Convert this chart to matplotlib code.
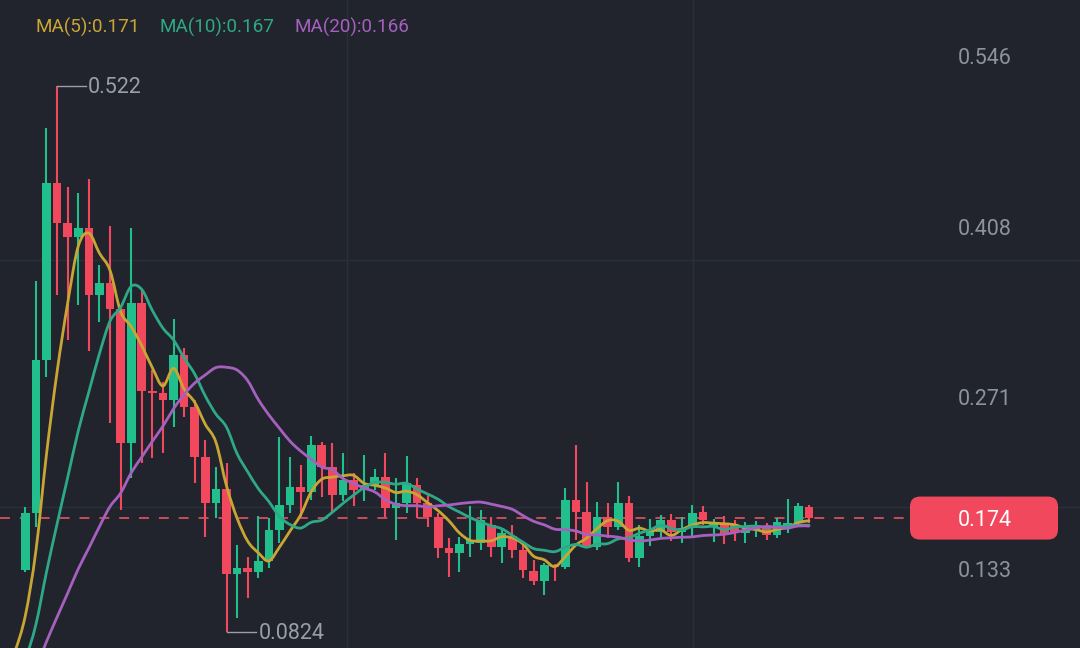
import numpy as np
import pandas as pd
import matplotlib
matplotlib.use('Agg')
import matplotlib.pyplot as plt
import matplotlib.transforms as mtransforms
from matplotlib.path import Path
from matplotlib.patches import PathPatch, FancyBboxPatch

plt.rcParams['font.family'] = ['Roboto', 'DejaVu Sans']

# candles
open_ = [0.1322, 0.1781, 0.3013, 0.4438, 0.4116, 0.4003, 0.4075, 0.3536, 0.3633, 0.3423,
         0.2345, 0.3472, 0.2763, 0.2747, 0.2691, 0.3053, 0.2634, 0.2232, 0.1862, 0.1974,
         0.1290, 0.1338, 0.1306, 0.1395, 0.1644, 0.1846, 0.1990, 0.1950, 0.2329, 0.2151,
         0.1926, 0.2047, 0.1966, 0.2007, 0.2071, 0.1821, 0.1862, 0.2007, 0.1862, 0.1749,
         0.1499, 0.1459, 0.1532, 0.1540, 0.1685, 0.1507, 0.1596, 0.1483, 0.1314, 0.1234,
         0.1363, 0.1346, 0.1886, 0.1789, 0.1507, 0.1749, 0.1668, 0.1862, 0.1419, 0.1596,
         0.1628, 0.1725, 0.1628, 0.1660, 0.1789, 0.1668, 0.1701, 0.1685, 0.1620, 0.1644,
         0.1660, 0.1604, 0.1668, 0.1701, 0.1829]
high = [0.1829, 0.3649, 0.4880, 0.5220, 0.4405, 0.4357, 0.4470, 0.3778, 0.4092, 0.3456,
        0.4075, 0.3576, 0.2932, 0.2836, 0.3343, 0.3109, 0.2691, 0.2369, 0.2151, 0.2184,
        0.1524, 0.1427, 0.1757, 0.1741, 0.2393, 0.2232, 0.2168, 0.2401, 0.2353, 0.2345,
        0.2264, 0.2103, 0.2248, 0.2135, 0.2264, 0.2063, 0.2240, 0.2063, 0.1942, 0.1781,
        0.1580, 0.1588, 0.1837, 0.1805, 0.1749, 0.1644, 0.1685, 0.1540, 0.1403, 0.1379,
        0.1371, 0.1982, 0.2329, 0.2031, 0.1870, 0.1862, 0.2031, 0.1918, 0.1685, 0.1733,
        0.1765, 0.1773, 0.1749, 0.1846, 0.1837, 0.1733, 0.1757, 0.1725, 0.1709, 0.1717,
        0.1701, 0.1741, 0.1894, 0.1862, 0.1846]
low = [0.1306, 0.1668, 0.2876, 0.3536, 0.3174, 0.3456, 0.3085, 0.3319, 0.2506, 0.1805,
       0.2063, 0.2184, 0.2224, 0.2264, 0.2473, 0.2554, 0.2023, 0.1588, 0.1741, 0.0824,
       0.0936, 0.1097, 0.1258, 0.1338, 0.1540, 0.1781, 0.1749, 0.1886, 0.1910, 0.1789,
       0.1878, 0.1837, 0.1878, 0.1966, 0.1749, 0.1564, 0.1781, 0.1741, 0.1668, 0.1419,
       0.1266, 0.1306, 0.1427, 0.1483, 0.1427, 0.1379, 0.1419, 0.1258, 0.1202, 0.1121,
       0.1234, 0.1330, 0.1564, 0.1499, 0.1483, 0.1580, 0.1644, 0.1387, 0.1346, 0.1515,
       0.1588, 0.1556, 0.1540, 0.1580, 0.1685, 0.1548, 0.1532, 0.1556, 0.1540, 0.1588,
       0.1564, 0.1580, 0.1620, 0.1685, 0.1701]
close = [0.1781, 0.3013, 0.4438, 0.4116, 0.4003, 0.4075, 0.3536, 0.3633, 0.3423, 0.2345,
         0.3472, 0.2763, 0.2747, 0.2691, 0.3053, 0.2634, 0.2232, 0.1862, 0.1974, 0.1290,
         0.1338, 0.1306, 0.1395, 0.1644, 0.1846, 0.1990, 0.1950, 0.2329, 0.2151, 0.1926,
         0.2047, 0.1966, 0.2007, 0.2071, 0.1821, 0.1862, 0.2023, 0.1862, 0.1749, 0.1499,
         0.1459, 0.1532, 0.1564, 0.1725, 0.1507, 0.1620, 0.1483, 0.1322, 0.1234, 0.1363,
         0.1346, 0.1886, 0.1789, 0.1507, 0.1749, 0.1668, 0.1862, 0.1419, 0.1596, 0.1628,
         0.1725, 0.1628, 0.1660, 0.1781, 0.1725, 0.1701, 0.1604, 0.1620, 0.1644, 0.1668,
         0.1604, 0.1709, 0.1701, 0.1837, 0.1740]
# closes before the visible window (only feed the moving averages)
prior_close = [0.015, 0.015, 0.016, 0.016, 0.017, 0.017, 0.018, 0.019, 0.019, 0.020,
               0.021, 0.022, 0.024, 0.027, 0.032, 0.040, 0.055, 0.080, 0.124]

ma_periods = [5, 10, 20]
ma_last = [0.171, 0.167, 0.166]
price_ticks = [0.546, 0.408, 0.271, 0.133]
last_price = 0.174

BG = '#21242c'
UP = '#20bf8c'
DOWN = '#f2485e'
TXT = '#8e939b'
GRID = '#2b2f38'
ma_colors = ['#c9a634', '#2ea887', '#a660bf']

o = np.array(open_)
h = np.array(high)
l = np.array(low)
c = np.array(close)
idx = np.arange(len(c))

fig = plt.figure(figsize=(10.8, 6.48), dpi=100, facecolor=BG)
ax = fig.add_axes([0, 0, 1, 1], facecolor=BG)
ax.set_xlim(-2.39, 99.6)
ax.set_ylim(0.0694, 0.5911)
ax.axis('off')

# faint screen grid
for gx in [0.321, 0.642]:
    ax.plot([gx, gx], [0, 1], transform=ax.transAxes, color=GRID, lw=1, zorder=0)
for gy in [0.599, 0.2176]:
    ax.plot([0, 1], [gy, gy], transform=ax.transAxes, color=GRID, lw=1, zorder=0)

# candles
up = c >= o
col = np.where(up, UP, DOWN)
ax.vlines(idx, l, h, colors=col, lw=1.5, zorder=2)
body_lo = np.minimum(o, c)
body_h = np.maximum(np.abs(c - o), 0.0018)
ax.bar(idx, body_h, bottom=body_lo, width=0.82, color=col, zorder=3)

# last price dashed line
trans = mtransforms.blended_transform_factory(ax.transAxes, ax.transData)
ax.plot([0, 0.843], [last_price, last_price], transform=trans, color='#d2505f',
        lw=1.3, dashes=(5.5, 5.5), zorder=1)


# moving averages drawn as smooth bezier curves
def smooth_path(x, y):
    pts = np.column_stack([x, y])
    n = len(pts)
    verts = [pts[0]]
    codes = [Path.MOVETO]
    for i in range(n - 1):
        p0 = pts[i - 1] if i > 0 else pts[i]
        p1, p2 = pts[i], pts[i + 1]
        p3 = pts[i + 2] if i + 2 < n else pts[i + 1]
        verts += [p1 + (p2 - p0) / 6, p2 - (p3 - p1) / 6, p2]
        codes += [Path.CURVE4] * 3
    return Path(verts, codes)


full = pd.Series(prior_close + close)
xs = np.arange(-len(prior_close), len(close))
for p, colr in zip(ma_periods, ma_colors):
    ma = full.rolling(p).mean().to_numpy()
    ok = ~np.isnan(ma) & (xs >= -3)
    ax.add_patch(PathPatch(smooth_path(xs[ok], ma[ok]), fc='none', ec=colr,
                           lw=2, capstyle='round', zorder=4))

# text sits ~2px lower than bbox-centred
dtrans = mtransforms.offset_copy(ax.transData, fig=fig, y=-2, units='dots')
btrans = mtransforms.offset_copy(trans, fig=fig, y=-2, units='dots')

# high / low markers
hi_i, lo_i = int(np.argmax(h)), int(np.argmin(l))
ax.plot([hi_i, hi_i + 2.7], [h[hi_i], h[hi_i]], color='#9a9ea6', lw=1, zorder=5)
ax.text(hi_i + 2.9, h[hi_i], f'{h[hi_i]:.3g}', transform=dtrans, color='#9a9ea6',
        fontsize=15.5, va='center', ha='left', zorder=5)
ax.plot([lo_i, lo_i + 2.8], [l[lo_i], l[lo_i]], color='#9a9ea6', lw=1, zorder=5)
ax.text(lo_i + 3.0, l[lo_i], f'{l[lo_i]:.3g}', transform=dtrans, color='#9a9ea6',
        fontsize=15.5, va='center', ha='left', zorder=5)

# price scale labels
for pt in price_ticks:
    ax.text(0.912, pt, f'{pt:.3f}', transform=btrans, color=TXT, fontsize=15.5,
            ha='center', va='center')

ypix = ax.transData.transform((0, last_price))[1]
tag = FancyBboxPatch((910, ypix - 21.5), 148, 43, boxstyle='round,pad=0,rounding_size=10',
                     transform=mtransforms.IdentityTransform(), fc=DOWN, ec='none', zorder=6)
ax.add_artist(tag)
ax.text(0.912, last_price, f'{last_price:.3f}', transform=btrans, color='white',
        fontsize=15.5, ha='center', va='center', zorder=7)

# MA legend
for xpos, p, v, colr in zip([0.0333, 0.148, 0.273], ma_periods, ma_last, ma_colors):
    ax.text(xpos, 0.957, f'MA({p}):{v:.3f}', transform=ax.transAxes, color=colr,
            fontsize=13.6, ha='left', va='center')

fig.savefig('out.png', dpi=100, facecolor=BG)
